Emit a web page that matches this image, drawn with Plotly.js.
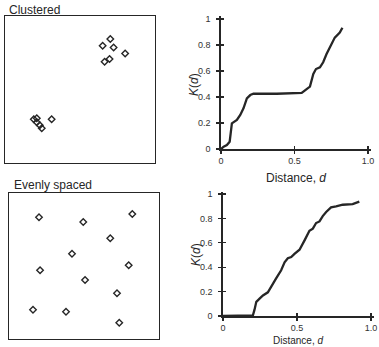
<!DOCTYPE html>
<html>
<head>
<meta charset="utf-8">
<script src="https://cdn.plot.ly/plotly-3.0.1.min.js"></script>
<style>html,body{margin:0;padding:0;background:#fff;}#chart{width:379px;height:347px;}</style>
</head>
<body>
<div id="chart"></div>
<script>
// Clustered point pattern (unit square)
const clusteredX = [0.651, 0.702, 0.724, 0.801, 0.664, 0.697, 0.192, 0.212, 0.212, 0.232, 0.245, 0.311];
const clusteredY = [0.797, 0.843, 0.786, 0.745, 0.689, 0.707, 0.297, 0.304, 0.277, 0.257, 0.236, 0.297];
// Evenly spaced point pattern (unit square)
const evenX = [0.200, 0.495, 0.822, 0.675, 0.420, 0.798, 0.207, 0.507, 0.720, 0.160, 0.380, 0.735];
const evenY = [0.834, 0.801, 0.856, 0.690, 0.584, 0.505, 0.471, 0.404, 0.313, 0.201, 0.187, 0.112];
// K(d) curve for the clustered pattern
const kClustD = [0, 0.018, 0.040, 0.059, 0.074, 0.090, 0.108, 0.131, 0.153, 0.176, 0.199, 0.221, 0.379, 0.549, 0.605, 0.628, 0.646, 0.673, 0.695, 0.718, 0.740, 0.774, 0.808, 0.826];
const kClustK = [0, 0.018, 0.030, 0.056, 0.197, 0.210, 0.223, 0.262, 0.313, 0.390, 0.415, 0.425, 0.425, 0.432, 0.480, 0.578, 0.615, 0.628, 0.667, 0.730, 0.780, 0.857, 0.895, 0.933];
// K(d) curve for the evenly spaced pattern
const kEvenD = [0, 0.100, 0.202, 0.213, 0.225, 0.247, 0.270, 0.303, 0.326, 0.360, 0.393, 0.416, 0.438, 0.461, 0.483, 0.517, 0.551, 0.584, 0.607, 0.629, 0.652, 0.674, 0.697, 0.730, 0.764, 0.809, 0.876, 0.899, 0.921];
const kEvenK = [0, 0, 0.005, 0.052, 0.116, 0.142, 0.168, 0.194, 0.245, 0.310, 0.375, 0.440, 0.473, 0.483, 0.509, 0.543, 0.620, 0.698, 0.716, 0.762, 0.775, 0.819, 0.853, 0.891, 0.899, 0.912, 0.917, 0.925, 0.938];
// Labels
const panelTitles = ["Clustered", "Evenly spaced"];
const kTickVals = [0, 0.2, 0.4, 0.6, 0.8, 1];
const kTickText = ["0", "0.2", "0.4", "0.6", "0.8", "1"];
const dTickVals = [0, 0.5, 1.0];
const dTickText = ["0", "0.5", "1.0"];
const xTitle = "Distance, <i>d</i>";
const yTitle = "<i>K</i>(<i>d</i>)";

const W = 379, H = 347;
const px = (a, b) => [a / W, b / W];
const py = (top, bottom) => [1 - bottom / H, 1 - top / H];
const ink = "#262626";
const fam = "Liberation Sans, Arial, sans-serif";
const font = {family: fam, size: 9, color: "#333"};
const titleFont = {family: fam, size: 12, color: ink};

const marker = {symbol: "diamond-open", size: 5, color: ink, line: {width: 1.4, color: ink}};
const lineStyle = {color: ink, width: 2.3, shape: "linear"};

const traces = [
  {x: clusteredX, y: clusteredY, xaxis: "x", yaxis: "y", mode: "markers", type: "scatter", marker: marker, hoverinfo: "skip"},
  {x: kClustD, y: kClustK, xaxis: "x2", yaxis: "y2", mode: "lines", type: "scatter", line: lineStyle, hoverinfo: "skip"},
  {x: evenX, y: evenY, xaxis: "x3", yaxis: "y3", mode: "markers", type: "scatter", marker: marker, hoverinfo: "skip"},
  {x: kEvenD, y: kEvenK, xaxis: "x4", yaxis: "y4", mode: "lines", type: "scatter", line: lineStyle, hoverinfo: "skip"},
  // invisible helpers so the inside-tick overlay axes are drawn
  {x: kClustD, y: kClustK, xaxis: "x5", yaxis: "y5", mode: "lines", type: "scatter", line: {width: 0}, opacity: 0, hoverinfo: "skip"},
  {x: kEvenD, y: kEvenK, xaxis: "x6", yaxis: "y6", mode: "lines", type: "scatter", line: {width: 0}, opacity: 0, hoverinfo: "skip"}
];

const boxX = (dom, anchor) => ({domain: dom, anchor: anchor, range: [0, 1], showgrid: false, zeroline: false, showticklabels: false, ticks: "", showline: true, mirror: true, linecolor: ink, linewidth: 1.3, fixedrange: true});
const kX = (dom, anchor) => ({domain: dom, anchor: anchor, range: [0, 1.02], showgrid: false, zeroline: false, showline: true, linecolor: ink, linewidth: 1.6, ticks: "outside", ticklen: 3, tickwidth: 1.2, tickcolor: ink, tickvals: dTickVals, ticktext: dTickText, tickfont: font, fixedrange: true});
const kY = (dom, anchor) => ({domain: dom, anchor: anchor, range: [0, 1.02], showgrid: false, zeroline: false, showline: true, linecolor: ink, linewidth: 1.6, ticks: "outside", ticklen: 3, tickwidth: 1.2, tickcolor: ink, tickvals: kTickVals, ticktext: kTickText, tickfont: font, ticklabelstandoff: 4, fixedrange: true});
const overX = (over, anchor) => ({overlaying: over, anchor: anchor, range: [0, 1.02], showgrid: false, zeroline: false, showline: false, showticklabels: false, ticks: "inside", ticklen: 3, tickwidth: 1.2, tickcolor: ink, tickvals: dTickVals, fixedrange: true});
const overY = (over, anchor) => ({overlaying: over, anchor: anchor, range: [0, 1.02], showgrid: false, zeroline: false, showline: false, showticklabels: false, ticks: "inside", ticklen: 3, tickwidth: 1.2, tickcolor: ink, tickvals: kTickVals, fixedrange: true});

const x2dom = [221 / W, (221 + 147 * 1.02) / W];
const y2dom = [1 - 149 / H, 1 - (149 - 130 * 1.02) / H];
const x4dom = [223 / W, (223 + 148 * 1.02) / W];
const y4dom = [1 - 316 / H, 1 - (316 - 122 * 1.02) / H];

const layout = {
  width: W, height: H,
  margin: {l: 0, r: 0, t: 0, b: 0},
  paper_bgcolor: "#fff", plot_bgcolor: "rgba(0,0,0,0)",
  showlegend: false,
  font: font,
  xaxis: boxX(px(5, 155), "y"),
  yaxis: boxX(py(16, 163), "x"),
  xaxis2: kX(x2dom, "y2"),
  yaxis2: kY(y2dom, "x2"),
  xaxis3: boxX(px(9, 159), "y3"),
  yaxis3: boxX(py(193, 339), "x3"),
  xaxis4: kX(x4dom, "y4"),
  yaxis4: kY(y4dom, "x4"),
  xaxis5: overX("x2", "y5"),
  yaxis5: overY("y2", "x5"),
  xaxis6: overX("x4", "y6"),
  yaxis6: overY("y4", "x6"),
  annotations: [
    {text: panelTitles[0], xref: "paper", yref: "paper", x: 7 / W, y: 1 - 10 / H, xanchor: "left", yanchor: "middle", showarrow: false, font: titleFont},
    {text: panelTitles[1], xref: "paper", yref: "paper", x: 12 / W, y: 1 - 185 / H, xanchor: "left", yanchor: "middle", showarrow: false, font: titleFont},
    {text: yTitle, xref: "paper", yref: "paper", x: 194 / W, y: 1 - 85 / H, xanchor: "center", yanchor: "middle", textangle: -90, showarrow: false, font: titleFont},
    {text: yTitle, xref: "paper", yref: "paper", x: 196 / W, y: 1 - 255 / H, xanchor: "center", yanchor: "middle", textangle: -90, showarrow: false, font: titleFont},
    {text: xTitle, xref: "paper", yref: "paper", x: 296 / W, y: 1 - 178 / H, xanchor: "center", yanchor: "middle", showarrow: false, font: titleFont},
    {text: xTitle, xref: "paper", yref: "paper", x: 298 / W, y: 0, xanchor: "center", yanchor: "bottom", borderpad: 0, showarrow: false, font: {family: fam, size: 10, color: ink}}
  ]
};

Plotly.newPlot("chart", traces, layout, {staticPlot: true, displayModeBar: false});
</script>
</body>
</html>
